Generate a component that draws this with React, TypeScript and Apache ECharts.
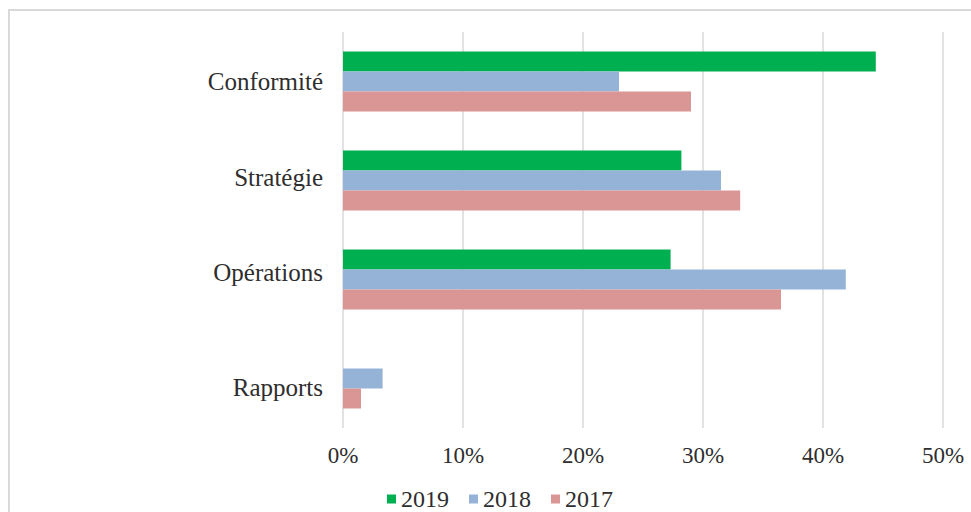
import React, { useEffect, useRef } from "react";
import * as echarts from "echarts";

const categories = ["Conformité", "Stratégie", "Opérations", "Rapports"];
const seriesNames = ["2019", "2018", "2017"];
const values2019 = [44.4, 28.2, 27.3, 0];
const values2018 = [23.0, 31.5, 41.9, 3.3];
const values2017 = [29.0, 33.1, 36.5, 1.5];
const xTicks = [0, 10, 20, 30, 40, 50];
const colors = ["#00B050", "#95B3D7", "#D99694"];

export default function App() {
  const ref = useRef<HTMLDivElement>(null);
  useEffect(() => {
    if (!ref.current) return;
    const chart = echarts.init(ref.current, null, { renderer: "svg" });
    const font = "Liberation Serif";
    const data = [values2019, values2018, values2017];
    // small vertical nudges of the category labels (positive = down), as in the reference
    const labelShift = [0, -3, -7, 9];
    chart.setOption({
      animation: false,
      backgroundColor: "#ffffff",
      textStyle: { fontFamily: font },
      graphic: [
        {
          type: "rect",
          shape: { x: 9, y: 10, width: 1000, height: 560 },
          style: { fill: "none", stroke: "#d9d9d9", lineWidth: 2 },
          silent: true,
        },
      ],
      legend: {
        data: seriesNames,
        left: 382,
        top: 482,
        itemWidth: 9,
        itemHeight: 9,
        itemGap: 20,
        icon: "rect",
        textStyle: { fontFamily: font, fontSize: 24, color: "#2e2e2e" },
      },
      grid: { left: 343, right: 28, top: 32, bottom: 84, containLabel: false },
      xAxis: {
        type: "value",
        min: xTicks[0],
        max: xTicks[xTicks.length - 1],
        interval: 10,
        axisLine: { show: false },
        axisTick: { show: false },
        splitLine: { show: true, lineStyle: { color: "#d9d9d9", width: 1.5 } },
        axisLabel: {
          formatter: "{value}%",
          fontFamily: font,
          fontSize: 23,
          color: "#2e2e2e",
          margin: 16,
        },
      },
      yAxis: {
        type: "category",
        inverse: true,
        data: categories,
        axisLine: { show: false },
        axisTick: { show: false },
        axisLabel: {
          fontFamily: font,
          fontSize: 25,
          color: "#2e2e2e",
          margin: 20,
          formatter: (v: string, idx: number) => {
            const s = labelShift[idx] || 0;
            if (s > 0) return `{sp| }\n{n|${v}}`.replace("sp|", `s${s}|`);
            if (s < 0) return `{n|${v}}\n{s${-s}| }`;
            return `{n|${v}}`;
          },
          rich: {
            n: { fontFamily: font, fontSize: 25, color: "#2e2e2e", lineHeight: 30 },
            s3: { fontSize: 1, lineHeight: 6 },
            s7: { fontSize: 1, lineHeight: 14 },
            s9: { fontSize: 1, lineHeight: 18 },
          },
        },
      },
      series: seriesNames.map((name, i) => ({
        name,
        type: "bar",
        data: data[i],
        barWidth: 20,
        barGap: "0%",
        itemStyle: { color: colors[i] },
      })),
    });
    return () => chart.dispose();
  }, []);
  return (
    <div
      ref={ref}
      style={{ position: "absolute", left: 0, top: 0, width: 971, height: 512 }}
    />
  );
}
